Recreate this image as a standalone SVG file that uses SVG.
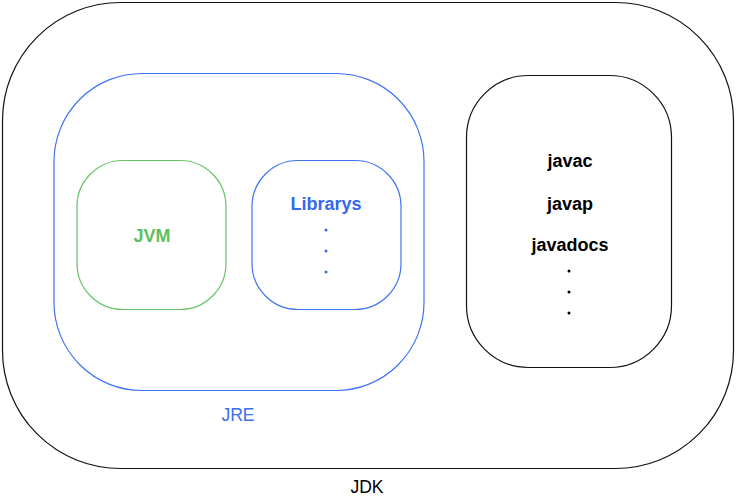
<svg xmlns="http://www.w3.org/2000/svg" width="736" height="502" viewBox="0 0 736 502">
<style>
.box{fill:none;stroke-width:1.2}
.k{stroke:#111}
.b{stroke:#3f73f0}
.g{stroke:#66c466}
text{font-family:"Liberation Sans",Arial,sans-serif;text-anchor:middle}
.bold{font-weight:bold;font-size:18px}
.reg{font-size:17.5px}
</style>
<rect width="736" height="502" fill="#fff"/>
<g id="jdk">
<rect class="box k" x="2.5" y="2.5" width="731" height="466" rx="118" ry="118"/>
<text class="reg" x="367" y="493" fill="#000">JDK</text>
</g>
<g id="jre">
<rect class="box b" x="54" y="73.5" width="370" height="317" rx="88" ry="88"/>
<text class="reg" x="238" y="421" fill="#3a6ff0">JRE</text>
</g>
<g id="jvm">
<rect class="box g" x="77" y="160.5" width="149" height="149" rx="46" ry="46"/>
<text class="bold" x="152" y="242" fill="#5fbf5f">JVM</text>
</g>
<g id="librarys">
<rect class="box b" x="252" y="160.5" width="149" height="149" rx="46" ry="46"/>
<text class="bold" x="326" y="210" fill="#3468ee">Librarys</text>
<g fill="#3468ee"><circle cx="326" cy="230" r="1.5"/><circle cx="326" cy="251" r="1.5"/><circle cx="326" cy="272" r="1.5"/></g>
</g>
<g id="tools">
<rect class="box k" x="466.5" y="75.5" width="205" height="292" rx="62" ry="62"/>
<text class="bold" x="570" y="167" fill="#000">javac</text>
<text class="bold" x="570" y="210" fill="#000">javap</text>
<text class="bold" x="570" y="251" fill="#000">javadocs</text>
<g fill="#000"><circle cx="569" cy="271" r="1.5"/><circle cx="569" cy="292" r="1.5"/><circle cx="569" cy="313" r="1.5"/></g>
</g>
<g id="connectors"></g>
</svg>
